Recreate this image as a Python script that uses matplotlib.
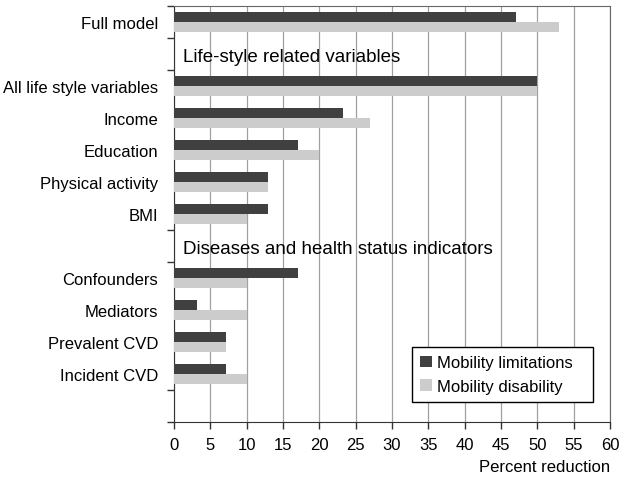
import matplotlib.pyplot as plt
import numpy as np

plt.rcParams['font.family'] = ['Liberation Sans', 'DejaVu Sans']

# data
categories = ["Full model", "All life style variables", "Income", "Education",
              "Physical activity", "BMI", "Confounders", "Mediators",
              "Prevalent CVD", "Incident CVD"]
limitations = [47, 50, 23.2, 17, 13, 13, 17, 3.2, 7.2, 7.2]
disability = [53, 50, 27, 20, 13, 10, 10, 10, 7.2, 10]
headers = ["Life-style related variables", "Diseases and health status indicators"]
series_names = ["Mobility limitations", "Mobility disability"]

# layout: row slots (13 rows, two header rows and one empty row at the bottom)
slots = np.array([0, 2, 3, 4, 5, 6, 8, 9, 10, 11])
header_slots = [1, 7]
n_rows = 13

fig = plt.figure(figsize=(6.24, 4.85), dpi=100)
ax = fig.add_axes([174/624, 1 - 423/485, 436/624, 416/485])

h = 0.3
centers = slots + 0.5
ax.barh(centers - h/2, limitations, height=h, color='#404040', label=series_names[0], zorder=3)
ax.barh(centers + h/2, disability, height=h, color='#cccccc', label=series_names[1], zorder=3)

for s, t in zip(header_slots, headers):
    ax.text(1.2, s + 0.58, t, fontsize=13.5, va='center', ha='left', zorder=4)

ax.set_xlim(0, 60)
ax.set_ylim(n_rows, 0)
ax.set_xticks(np.arange(0, 61, 5))
ax.xaxis.grid(True, color='#a0a0a0', lw=0.9)
ax.set_axisbelow(True)

# tick marks only at group boundaries, labels at row centres
ax.set_yticks([0, 1, 2, 7, 8, 12, 13])
ax.set_yticklabels([])
ax.set_yticks(centers, minor=True)
ax.set_yticklabels(categories, minor=True, fontsize=12)
ax.tick_params(axis='y', which='minor', length=0, pad=11.5)
ax.tick_params(axis='y', which='major', length=5, width=1, color='#333333')
ax.tick_params(axis='x', length=5, width=1, color='#333333', labelsize=12, pad=6)

for side in ['left', 'bottom']:
    ax.spines[side].set_color('#333333')
for side in ['top', 'right']:
    ax.spines[side].set_color('#666666')

ax.set_xlabel("Percent reduction", fontsize=12, loc='right', labelpad=5)

leg = ax.legend(loc='lower left', bbox_to_anchor=(0.546, 0.048, 0.415, 0.13), mode='expand',
                fontsize=12, frameon=True, fancybox=False, edgecolor='black', framealpha=1,
                handlelength=0.7, handleheight=0.7, handletextpad=0.3,
                labelspacing=0.5, borderpad=0.5, borderaxespad=0)
leg.get_frame().set_linewidth(1)

fig.savefig('out.png', dpi=100)
